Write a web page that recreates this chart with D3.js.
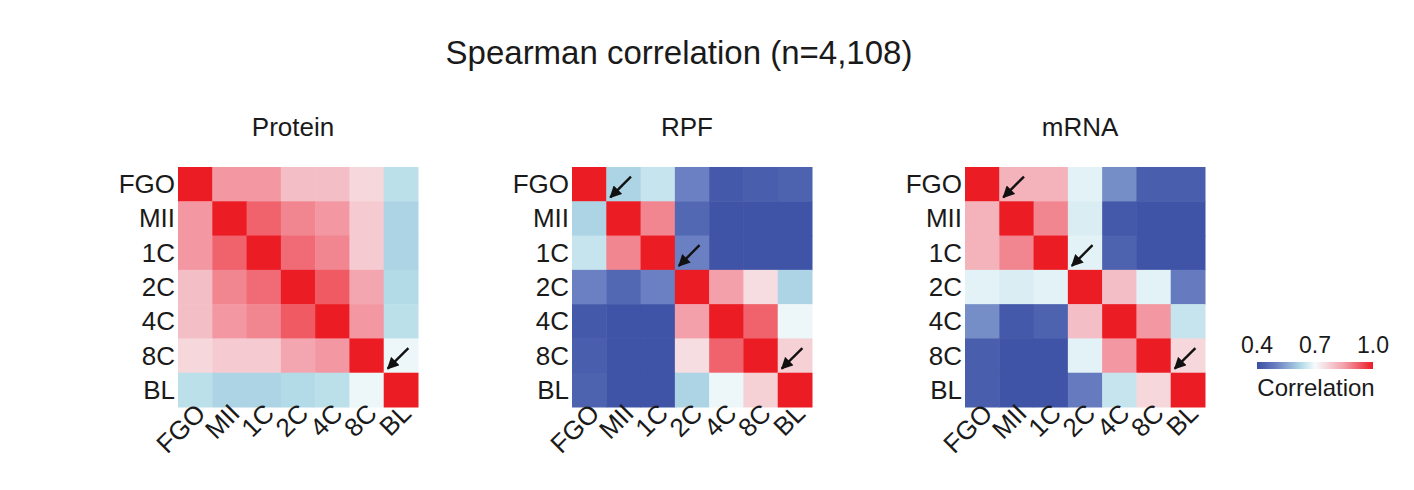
<!DOCTYPE html>
<html><head><meta charset="utf-8">
<script src="https://cdn.jsdelivr.net/npm/d3@7"></script>
<style>body{margin:0;background:#fff}text{font-family:Arial,"Liberation Sans",sans-serif;fill:#1a1a1a}</style>
</head><body><svg id="c" width="1414" height="490"></svg>
<script>
var stages = ["FGO","MII","1C","2C","4C","8C","BL"];
var protein = [
  [1,.86,.86,.8,.8,.76,.64],
  [.86,1,.92,.88,.86,.78,.62],
  [.86,.92,1,.91,.88,.78,.62],
  [.8,.88,.91,1,.93,.84,.63],
  [.8,.86,.88,.93,1,.86,.64],
  [.76,.78,.78,.84,.86,1,.69],
  [.64,.62,.62,.63,.64,.69,1]];
var rpf = [
  [1,.62,.65,.5,.42,.43,.44],
  [.62,1,.88,.45,.41,.41,.41],
  [.65,.88,1,.5,.41,.41,.41],
  [.5,.45,.5,1,.85,.75,.62],
  [.42,.41,.41,.85,1,.92,.69],
  [.43,.41,.41,.75,.92,1,.77],
  [.44,.41,.41,.62,.69,.77,1]];
var mrna = [
  [1,.82,.82,.68,.52,.43,.43],
  [.82,1,.88,.67,.42,.41,.41],
  [.82,.88,1,.68,.44,.41,.41],
  [.68,.67,.68,1,.8,.68,.49],
  [.52,.42,.44,.8,1,.86,.65],
  [.43,.41,.41,.68,.86,1,.76],
  [.43,.41,.41,.49,.65,.76,1]];
var panels = [
  {title:"Protein", data:protein, x:178, arrows:[[5,6]]},
  {title:"RPF", data:rpf, x:572, arrows:[[0,1],[2,3],[5,6]]},
  {title:"mRNA", data:mrna, x:965, arrows:[[0,1],[2,3],[5,6]]}];
var legendTicks = [0.4, 0.7, 1.0];

var color = d3.scaleLinear()
  .domain([0.4,0.5,0.63,0.7,0.85,1])
  .range(["#3a4fa3","#6b80c2","#b2dbe7","#f7fbfc","#f3a0ab","#ec1c24"]);

var svg = d3.select("#c");
var defs = svg.append("defs");
defs.append("marker").attr("id","ah").attr("viewBox","0 0 10 10").attr("refX",9).attr("refY",5)
  .attr("markerWidth",5).attr("markerHeight",5).attr("orient","auto")
  .append("path").attr("d","M0,0L10,5L0,10z").attr("fill","#111");

svg.append("text").attr("x",679).attr("y",64).attr("text-anchor","middle")
  .attr("font-size",33).text("Spearman correlation (n=4,108)");

var gridTop = 167, size = 240;
panels.forEach(function(p){
  var g = svg.append("g").attr("transform","translate("+p.x+","+gridTop+")");
  var band = d3.scaleBand().domain(stages).range([0,size]);
  var s = band.bandwidth();
  svg.append("text").attr("x",p.x+size/2-5).attr("y",136).attr("text-anchor","middle")
    .attr("font-size",26).text(p.title);
  p.data.forEach(function(row,i){
    g.selectAll(null).data(row).enter().append("rect")
      .attr("x",function(d,j){return band(stages[j]);})
      .attr("y",band(stages[i]))
      .attr("width",s+0.5).attr("height",s+0.5)
      .attr("fill",function(d){return color(d);});
  });
  g.selectAll(".yl").data(stages).enter().append("text")
    .attr("x",-3).attr("y",function(d){return band(d)+s/2+9;})
    .attr("text-anchor","end").attr("font-size",26).text(function(d){return d;});
  g.selectAll(".xl").data(stages).enter().append("text")
    .attr("transform",function(d){return "translate("+(band(d)+s/2+12)+","+(size+8)+") rotate(-45)";})
    .attr("text-anchor","end").attr("font-size",26).text(function(d){return d;});
  p.arrows.forEach(function(a){
    var x0 = band(stages[a[1]]), y0 = band(stages[a[0]]);
    g.append("line").attr("x1",x0+s*0.72).attr("y1",y0+s*0.28)
      .attr("x2",x0+4).attr("y2",y0+s-4)
      .attr("stroke","#111").attr("stroke-width",2.4).attr("marker-end","url(#ah)");
  });
});

// legend
var lx = d3.scaleLinear().domain([0.4,1]).range([1257,1373]);
var grad = defs.append("linearGradient").attr("id","lg");
d3.range(0,1.0001,0.05).forEach(function(t){
  grad.append("stop").attr("offset",(t*100)+"%").attr("stop-color",color(0.4+0.6*t));
});
svg.append("rect").attr("x",lx(0.4)).attr("y",362).attr("width",lx(1)-lx(0.4)).attr("height",7)
  .attr("fill","url(#lg)");
svg.selectAll(".lt").data(legendTicks).enter().append("text")
  .attr("x",function(d){return lx(d);}).attr("y",353).attr("text-anchor","middle")
  .attr("font-size",23).text(function(d){return d.toFixed(1);});
svg.append("text").attr("x",1316).attr("y",396).attr("text-anchor","middle")
  .attr("font-size",24).text("Correlation");
</script></body></html>
